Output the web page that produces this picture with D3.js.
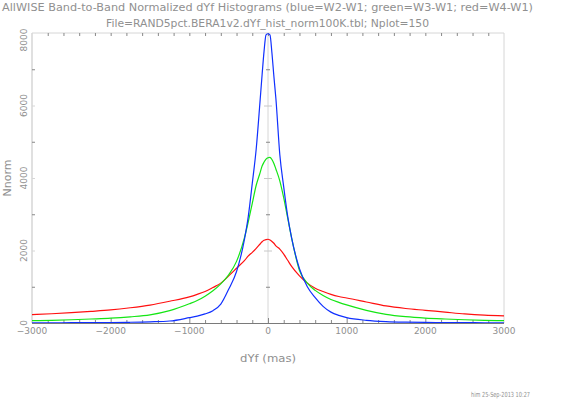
<!DOCTYPE html>
<html>
<head>
<meta charset="utf-8">
<script src="https://cdn.jsdelivr.net/npm/d3@7"></script>
<style>
  html, body { margin: 0; padding: 0; background: #fff; }
  svg { display: block; font-family: 'DejaVu Sans', sans-serif; }
  .lbl { fill: #909090; }
</style>
</head>
<body>
<div id="chart"></div>
<script>
// dYf bin centres (mas)
const xVals = [-3000, -2750, -2500, -2250, -2000, -1750, -1500, -1250, -1000,
  -900, -800, -700, -600, -500, -400, -300, -250, -200, -150, -100, -75, -50, -25,
  0, 25, 50, 75, 100, 150, 200, 250, 300, 400, 500, 600, 700, 800, 900, 1000,
  1250, 1500, 1750, 2000, 2250, 2500, 2750, 3000]

// W2-W1
const blueVals = [5, 6, 8, 10, 14, 20, 32, 55, 147,
  190, 250, 340, 520, 930, 1420, 2300, 2950, 3850, 4800, 6150, 6850, 7500, 7950,
  7980, 7950, 7450, 6800, 6200, 4650, 3750, 2950, 2350, 1500, 1000, 700, 460, 300, 210, 150,
  75, 38, 22, 15, 11, 9, 7, 6]

// W3-W1
const greenVals = [64, 75, 90, 110, 132, 170, 225, 340, 530,
  620, 740, 890, 1080, 1330, 1700, 2350, 2800, 3300, 3800, 4150, 4330, 4440, 4520,
  4560, 4570, 4510, 4400, 4250, 3920, 3450, 2900, 2350, 1450, 1100, 900, 760, 650, 570, 500,
  350, 240, 175, 135, 110, 90, 75, 65]

// W4-W1
const redVals = [230, 255, 285, 320, 360, 420, 495, 600, 720,
  790, 870, 980, 1100, 1300, 1510, 1720, 1850, 1950, 2060, 2180, 2240, 2280, 2300,
  2310, 2290, 2250, 2200, 2130, 2040, 1900, 1730, 1560, 1300, 1100, 960, 870, 790, 730, 690,
  580, 470, 400, 350, 300, 250, 215, 195]

const xTicks = [-3000, -2000, -1000, 0, 1000, 2000, 3000]
const yTicks = [0, 2000, 4000, 6000, 8000]

const titleText = 'AllWISE Band-to-Band Normalized dYf Histograms (blue=W2-W1; green=W3-W1; red=W4-W1)'
const subtitleText = 'File=RAND5pct.BERA1v2.dYf_hist_norm100K.tbl; Nplot=150'
const xTitle = 'dYf (mas)'
const yTitle = 'Nnorm'
const stamp = 'him 25-Sep-2013 10:27'

const W = 561, H = 402
const plotL = 32, plotR = 504, plotT = 33, plotB = 323

const svg = d3.select('#chart').append('svg')
  .attr('width', W)
  .attr('height', H)

const x = d3.scaleLinear().domain([-3000, 3000]).range([plotL, plotR])
const y = d3.scaleLinear().domain([0, 8000]).range([plotB, plotT])

// frame (light grey) + zero line
svg.append('line').attr('x1', plotL).attr('x2', plotL).attr('y1', plotT).attr('y2', plotB)
  .attr('stroke', '#d6d6d6').attr('stroke-width', 1.5)
svg.append('line').attr('x1', plotR).attr('x2', plotR).attr('y1', plotT).attr('y2', plotB)
  .attr('stroke', '#d6d6d6').attr('stroke-width', 1)
svg.append('line').attr('x1', plotL).attr('x2', plotR).attr('y1', plotT).attr('y2', plotT)
  .attr('stroke', '#d6d6d6').attr('stroke-width', 1)
svg.append('line').attr('x1', x(0)).attr('x2', x(0)).attr('y1', plotT).attr('y2', plotB)
  .attr('stroke', '#d6d6d6').attr('stroke-width', 1)

// minor ticks on top and bottom (every 200 mas)
const minorX = d3.range(-2800, 3000, 200)
svg.append('g').selectAll('line').data(minorX).join('line')
  .attr('x1', d => x(d) + 0.5).attr('x2', d => x(d) + 0.5)
  .attr('y1', plotT).attr('y2', plotT + 3)
  .attr('stroke', '#888')
svg.append('g').selectAll('line').data(minorX).join('line')
  .attr('x1', d => x(d) + 0.5).attr('x2', d => x(d) + 0.5)
  .attr('y1', plotB).attr('y2', d => plotB - (d % 1000 === 0 ? 5 : 3))
  .attr('stroke', '#888')

// y ticks on left axis and on zero line
const minorY = d3.range(1000, 8000, 1000)
svg.append('g').selectAll('line').data(minorY).join('line')
  .attr('x1', plotL).attr('x2', plotL + 3)
  .attr('y1', d => y(d) + 0.5).attr('y2', d => y(d) + 0.5)
  .attr('stroke', d => d % 2000 === 0 ? '#d6d6d6' : '#888')
svg.append('g').selectAll('line').data(minorY).join('line')
  .attr('x1', d => x(0) - (d % 2000 === 0 ? 4 : 2)).attr('x2', d => x(0) + (d % 2000 === 0 ? 4 : 2))
  .attr('y1', d => y(d) + 0.5).attr('y2', d => y(d) + 0.5)
  .attr('stroke', d => d % 2000 === 0 ? '#c8c8c8' : '#888')

// curves
const line = d3.line()
  .x(d => x(d[0]))
  .y(d => y(d[1]))
  .curve(d3.curveMonotoneX)

const series = [
  { vals: redVals, color: '#ff1010' },
  { vals: greenVals, color: '#14e614' },
  { vals: blueVals, color: '#1030ff' }
]
series.forEach(s => {
  svg.append('path')
    .datum(xVals.map((v, i) => [v, s.vals[i]]))
    .attr('d', line)
    .attr('fill', 'none')
    .attr('stroke', s.color)
    .attr('stroke-width', 1.2)
})

// bottom axis line (darker)
svg.append('line').attr('x1', plotL).attr('x2', plotR).attr('y1', plotB + 0.5).attr('y2', plotB + 0.5)
  .attr('stroke', '#7a7a7a').attr('stroke-width', 1)

// x tick labels
svg.append('g').selectAll('text').data(xTicks).join('text')
  .attr('class', 'lbl')
  .attr('x', d => x(d))
  .attr('y', 334)
  .attr('text-anchor', 'middle')
  .attr('font-size', 9)
  .text(d => d < 0 ? '\u2212' + Math.abs(d) : d)

// y tick labels (rotated)
svg.append('g').selectAll('text').data(yTicks).join('text')
  .attr('class', 'lbl')
  .attr('transform', d => `translate(27,${d === 8000 ? y(d) + 7 : y(d)}) rotate(-90)`)
  .attr('text-anchor', 'middle')
  .attr('font-size', 9)
  .text(d => d)

// titles
svg.append('text').attr('class', 'lbl')
  .attr('x', 2).attr('y', 11)
  .attr('font-size', 10.5)
  .attr('textLength', 531).attr('lengthAdjust', 'spacingAndGlyphs')
  .text(titleText)
svg.append('text').attr('class', 'lbl')
  .attr('x', 106).attr('y', 27)
  .attr('font-size', 10.5)
  .attr('textLength', 323).attr('lengthAdjust', 'spacingAndGlyphs')
  .text(subtitleText)
svg.append('text').attr('class', 'lbl')
  .attr('x', x(0)).attr('y', 362)
  .attr('text-anchor', 'middle')
  .attr('font-size', 11)
  .attr('textLength', 56).attr('lengthAdjust', 'spacingAndGlyphs')
  .text(xTitle)
svg.append('text').attr('class', 'lbl')
  .attr('transform', `translate(11,${(plotT + plotB) / 2}) rotate(-90)`)
  .attr('text-anchor', 'middle')
  .attr('font-size', 11)
  .text(yTitle)
svg.append('text').attr('class', 'lbl')
  .attr('x', 471).attr('y', 397)
  .attr('font-size', 7)
  .attr('textLength', 59).attr('lengthAdjust', 'spacingAndGlyphs')
  .text(stamp)
</script>
</body>
</html>
